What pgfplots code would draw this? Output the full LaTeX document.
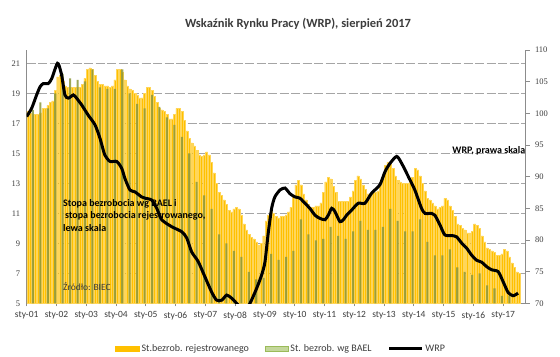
\documentclass[border=0pt]{standalone}
\usepackage{pgfplots}
\usepackage{pgfplotstable}
\pgfplotsset{compat=1.18}
\usepackage{fontspec}
\setmainfont{Carlito}
\newfontfamily\numfont{Liberation Serif}
\definecolor{regorange}{RGB}{255,192,0}
\definecolor{regedge}{RGB}{255,214,90}
\definecolor{baelgreen}{RGB}{140,152,60}
\definecolor{baellegend}{RGB}{196,215,155}
\definecolor{baelborder}{RGB}{155,187,89}
\definecolor{gridgray}{RGB}{165,165,165}
\definecolor{axgray}{RGB}{140,140,140}
\definecolor{labgray}{RGB}{60,60,60}

% registered unemployment rate, monthly (m = 0 is Jan 2001)
\pgfplotstableread{
m v
0 17.8
1 17.7
2 17.6
3 17.6
4 17.6
5 17.7
6 18.0
7 18.0
8 18.2
9 18.4
10 18.5
11 19.2
12 20.1
13 20.2
14 19.8
15 19.5
16 19.4
17 19.4
18 19.4
19 19.4
20 19.4
21 19.4
22 19.6
23 20.0
24 20.6
25 20.7
26 20.6
27 20.2
28 19.8
29 19.6
30 19.6
31 19.5
32 19.5
33 19.4
34 19.5
35 19.9
36 20.6
37 20.6
38 20.4
39 19.9
40 19.5
41 19.3
42 19.2
43 19.0
44 18.9
45 18.7
46 18.7
47 19.0
48 19.4
49 19.4
50 19.2
51 18.8
52 18.4
53 18.0
54 17.9
55 17.8
56 17.6
57 17.3
58 17.3
59 17.6
60 18.0
61 18.0
62 17.8
63 17.2
64 16.5
65 16.0
66 15.7
67 15.5
68 15.2
69 14.9
70 14.8
71 14.9
72 15.1
73 14.9
74 14.4
75 13.7
76 13.0
77 12.4
78 12.2
79 11.9
80 11.6
81 11.2
82 11.1
83 11.3
84 11.4
85 11.3
86 10.9
87 10.3
88 9.9
89 9.6
90 9.4
91 9.3
92 9.1
93 8.9
94 9.0
95 9.5
96 10.5
97 10.9
98 11.2
99 11.0
100 10.8
101 10.7
102 10.8
103 10.8
104 10.9
105 11.1
106 11.4
107 12.1
108 12.9
109 13.2
110 12.9
111 12.3
112 11.9
113 11.6
114 11.4
115 11.4
116 11.5
117 11.5
118 11.7
119 12.4
120 13.1
121 13.4
122 13.3
123 12.8
124 12.4
125 11.8
126 11.8
127 11.8
128 11.8
129 11.8
130 12.1
131 12.5
132 13.2
133 13.5
134 13.3
135 12.9
136 12.6
137 12.3
138 12.3
139 12.4
140 12.4
141 12.5
142 12.9
143 13.4
144 14.2
145 14.4
146 14.3
147 14.0
148 13.5
149 13.2
150 13.1
151 13.0
152 13.0
153 13.0
154 13.2
155 13.4
156 14.0
157 13.9
158 13.5
159 13.0
160 12.5
161 12.0
162 11.9
163 11.7
164 11.5
165 11.3
166 11.4
167 11.5
168 12.0
169 11.9
170 11.5
171 11.2
172 10.8
173 10.3
174 10.2
175 10.0
176 9.9
177 9.7
178 9.7
179 9.8
180 10.3
181 10.2
182 10.0
183 9.5
184 9.1
185 8.7
186 8.6
187 8.5
188 8.4
189 8.2
190 8.2
191 8.3
192 8.6
193 8.5
194 8.1
195 7.7
196 7.4
197 7.1
198 7.0
}\regtable

% BAEL (LFS) unemployment rate, quarterly (last month of quarter)
\pgfplotstableread{
m v
2 17.9
5 18.4
8 18.0
11 19.0
14 20.3
17 20.0
20 19.9
23 19.8
26 20.6
29 19.4
32 19.3
35 19.3
38 20.6
41 19.0
44 18.3
47 18.0
50 18.9
53 18.1
56 17.4
59 16.9
62 16.1
65 15.0
68 13.1
71 12.2
74 11.3
77 9.6
80 9.0
83 8.5
86 8.1
89 7.1
92 6.6
95 6.7
98 8.3
101 7.9
104 8.1
107 8.5
110 10.6
113 9.6
116 9.2
119 9.3
122 10.1
125 9.5
128 9.3
131 9.8
134 10.5
137 9.9
140 9.9
143 10.1
146 11.3
149 10.5
152 9.8
155 9.8
158 10.6
161 9.1
164 8.2
167 8.2
170 8.6
173 7.4
176 7.1
179 6.9
182 7.0
185 6.2
188 6.0
191 5.5
194 5.5
197 5.0
}\baeltable

\begin{document}
\begin{tikzpicture}
\useasboundingbox (-26.7bp,-53.7bp) rectangle (533.3bp,303.3bp);

\begin{axis}[
  at={(0,0)}, anchor=south west,
  scale only axis, width=498.8bp, height=253.3bp,
  xmin=-0.5, xmax=200.5, ymin=5, ymax=21.89,
  axis x line*=bottom, axis y line*=left,
  axis line style={draw=axgray, line width=0.8bp, -},
  xtick={-0.5,11.5,...,191.5},
  xticklabels={sty-01,sty-02,sty-03,sty-04,sty-05,sty-06,sty-07,sty-08,sty-09,sty-10,sty-11,sty-12,sty-13,sty-14,sty-15,sty-16,sty-17},
  xticklabel style={font=\fontsize{9.5bp}{10bp}\selectfont, text=labgray, yshift=-2bp},
  ytick={5,7,...,21},
  yticklabel style={font=\numfont\fontsize{8.5bp}{10bp}\selectfont, text=labgray},
  /pgf/number format/assume math mode=true,
  tick align=outside, major tick length=3bp,
  xtick style={draw=axgray, line width=0.7bp},
  ytick style={draw=none},
  ymajorgrids,
  grid style={draw=gridgray, line width=0.8bp, dash pattern=on 9bp off 2.5bp},
]
\addplot[ybar, bar width=0.82, bar shift=0pt, fill=regorange, draw=regedge, line width=0.3bp]
  table[x=m, y=v] {\regtable};
\addplot[ybar, bar width=0.82, bar shift=0pt, fill=baelgreen, fill opacity=0.85, draw=none]
  table[x=m, y=v] {\baeltable};
\end{axis}

\begin{axis}[
  at={(0,0)}, anchor=south west,
  scale only axis, width=498.8bp, height=253.3bp,
  xmin=-0.5, xmax=200.5, ymin=70, ymax=110,
  axis x line=none, axis y line*=right,
  axis line style={draw=axgray, line width=0.8bp, -},
  ytick={70,75,...,110},
  yticklabel style={font=\numfont\fontsize{8.5bp}{10bp}\selectfont, text=labgray, xshift=2bp},
  /pgf/number format/assume math mode=true,
  tick align=outside, major tick length=4bp,
  ytick style={draw=axgray, line width=0.7bp},
  legend style={at={(0.51,-0.18)}, anchor=center, draw=none, fill=none,
    font=\fontsize{10bp}{11bp}\selectfont, text=labgray,
    /tikz/every even column/.append style={column sep=14bp}},
  legend columns=3, legend cell align=left,
]
\addlegendimage{legend image code/.code={\fill[regorange] (0bp,-2.6bp) rectangle (24bp,2.6bp);}}
\addlegendentry{St.bezrob. rejestrowanego}
\addlegendimage{legend image code/.code={\filldraw[fill=baellegend,draw=baelborder,line width=0.5bp] (0bp,-2.4bp) rectangle (23bp,2.4bp);}}
\addlegendentry{St. bezrob. wg BAEL}
\addplot[black, line width=3bp, smooth, tension=0.4,
  legend image code/.code={\draw[black,line width=2.8bp] (0bp,0bp) -- (33bp,0bp);}]
  coordinates {
  (-0.5,99.5) (1.5,100.8) (3.5,102.9) (4.9,104.2) (6.2,104.7) (8.2,104.7)
  (9.6,105.5) (11.2,107.3) (11.9,107.9) (12.5,107.6) (13.6,106.0) (14.9,102.9)
  (16.3,102.4) (18.3,102.9) (19.6,102.4) (21.7,101.3) (24.3,99.7) (27,98.2)
  (29,96.1) (31,93.4) (33.1,92.4) (35.8,92.4) (37.8,91.3) (39.1,89.7)
  (41.1,87.9) (43.1,87.6) (45.8,86.8) (47.2,86.6) (49.9,86.3) (51.9,85.0)
  (53.9,83.2) (57.9,82.1) (62,81.3) (64,80.3) (66,78.1) (68.6,76.6)
  (71.3,74.2) (74,71.8) (76,70.5) (78.1,70.5) (80.1,71.3) (82.1,70.8)
  (84.1,70.0) (86,69.3) (88,69.3) (89.5,70.0) (92.2,72.4) (94.2,74.5)
  (95.5,76.5) (96.8,81.0) (98.2,85.0) (99.5,86.8) (101.6,87.9) (103.6,88.2)
  (105.6,87.3) (107.6,86.8) (109.6,86.6) (111.6,85.8) (113.6,85.0) (115.7,83.9)
  (117.7,83.4) (119.7,83.2) (121,83.9) (122.4,85.0) (123.7,84.5) (125.7,82.9)
  (127.1,83.2) (128.4,83.9) (130.4,84.7) (133.1,85.8) (135.8,85.8) (138.5,87.4)
  (141.8,88.7) (143.9,90.8) (145.9,92.1) (148.6,93.2) (150.6,92.1) (153.3,90.0)
  (155.9,87.9) (158.6,85.0) (160,84.2) (162.7,84.2) (164,83.9) (166,82.4)
  (168,80.8) (170.7,80.7) (172.7,80.5) (174.8,79.5) (176.8,78.7) (178.8,77.6)
  (180.8,76.8) (182.8,76.5) (184.8,75.8) (186.8,75.3) (189.5,75.0) (191.5,73.4)
  (193.5,71.7) (195.5,71.2) (197.5,71.6)
  };
\addlegendentry{WRP}
\end{axis}

\node[font=\bfseries\fontsize{12.5bp}{14bp}\selectfont, text=labgray] at (271.3bp,279.3bp)
  {Wskaźnik Rynku Pracy (WRP), sierpień 2017};
\node[font=\bfseries\fontsize{10bp}{11bp}\selectfont, anchor=west, inner sep=0pt] at (36.3bp,99.3bp)
  {Stopa bezrobocia wg BAEL i};
\node[font=\bfseries\fontsize{10bp}{11bp}\selectfont, anchor=west, inner sep=0pt] at (38.3bp,87.3bp)
  {stopa bezrobocia rejestrowanego,};
\node[font=\bfseries\fontsize{10bp}{11bp}\selectfont, anchor=west, inner sep=0pt] at (36.3bp,75.3bp)
  {lewa skala};
\node[font=\fontsize{9.5bp}{10bp}\selectfont, anchor=west, inner sep=0pt, text=labgray] at (36.3bp,16.6bp)
  {Źródło: BIEC};
\node[font=\bfseries\fontsize{10bp}{11bp}\selectfont, anchor=east, inner sep=0pt] at (498.8bp,152.3bp)
  {WRP, prawa skala};
\end{tikzpicture}
\end{document}
